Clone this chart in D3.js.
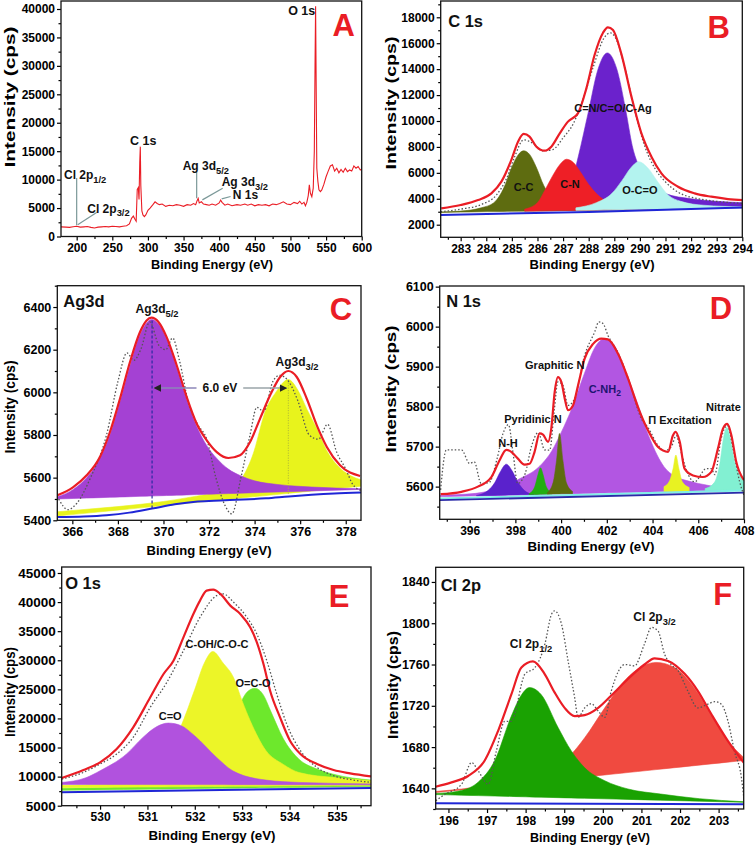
<!DOCTYPE html>
<html><head><meta charset="utf-8">
<script src="https://cdn.jsdelivr.net/npm/d3@7"></script>
<style>body{margin:0;background:#fff}</style>
</head><body><svg id="c" width="756" height="846"></svg>
<script>
// ================= DATA =================
// Panel A: survey spectrum [eV, cps]
const surveyA = [[178,1700],[185,1650],[190,1600],[195,1700],[200,1800],[205,1650],[210,1700],[215,1750],[220,1600],[225,1500],[230,1650],[235,1700],[240,1750],[245,1700],[250,1800],[255,1750],[260,1700],[265,1800],[270,1900],[274,2200],[277,3200],[279.5,3600],[282,3000],[283.5,2700],[285,8300],[286.5,8600],[287.5,6500],[288.5,13000],[289.3,15800],[290,9000],[291.5,4500],[293,3800],[295,3500],[297,3800],[300,4600],[303,5000],[307,5600],[310,6100],[313,5800],[316,5600],[320,5700],[325,5300],[330,5500],[335,5400],[340,5600],[345,5500],[350,5300],[355,5600],[360,5500],[364,5800],[367,5600],[369,6300],[370.5,6700],[372,5900],[375,6100],[378,5700],[382,5600],[386,5500],[390,5700],[395,5500],[400,5900],[402,6400],[404,6000],[408,5500],[412,5700],[418,5400],[425,5600],[430,5500],[436,5700],[440,5500],[445,5700],[450,5400],[455,5600],[460,5500],[465,5600],[470,5400],[475,5700],[480,5600],[485,5800],[490,6100],[495,5700],[500,5600],[505,6000],[510,5800],[513,6200],[516,5700],[519,6000],[521,5400],[523,6000],[525,7200],[526.5,9100],[528,7600],[530,7000],[532,8500],[533.5,15000],[534.5,30000],[535.3,40500],[536.2,25000],[537,12000],[538.5,9700],[540,8200],[542,7900],[544,8200],[547,9200],[550,10500],[553,11500],[556,12400],[559,12600],[562,11500],[565,12000],[568,11200],[571,11800],[574,11300],[577,12000],[580,11400],[583,11700],[586,11500],[589,12400],[592,12000],[595,12300],[598,11700],[600,11900]];
const markLinesA = [[[200,2000],[200,10300]],[[201.4,2050],[228,4200]],[[368.4,6740],[368.4,11400]],[[376.4,6440],[404.9,8490]],[[403.5,6620],[416,7030]]];

// Panel B: C 1s
const envB = [[282.24,3260],[283,3520],[283.68,3900],[284.2,4420],[284.59,5320],[284.98,7000],[285.24,8400],[285.46,9000],[285.69,8790],[285.96,8020],[286.28,7710],[286.54,8020],[286.87,9050],[287.19,9950],[287.58,10590],[287.91,12520],[288.23,15090],[288.56,16810],[288.75,17230],[288.95,17020],[289.27,15220],[289.67,11880],[290.06,9050],[290.45,7250],[290.84,5960],[291.49,4930],[292.14,4420],[292.79,4160],[293.44,3980],[294.03,3900]];
const expB = [[282.22,3000],[283,3200],[283.8,3550],[284.4,4300],[284.8,5600],[285.1,7200],[285.46,8550],[285.8,8300],[286.2,7700],[286.6,7800],[287.0,8700],[287.4,9800],[287.8,11800],[288.2,14300],[288.6,16400],[288.85,16800],[289.1,16200],[289.4,14200],[289.8,10800],[290.2,8000],[290.6,6300],[291.0,5300],[291.5,4500],[292.3,4000],[293,3800],[294,3650]];
const ccB = [[282.22,2980],[283,3050],[283.8,3300],[284.3,3700],[284.7,4900],[285.0,6450],[285.25,7400],[285.46,7700],[285.7,7400],[285.95,6450],[286.25,5000],[286.6,3950],[287.0,3450],[287.6,3250],[288.5,3150],[289.5,3150]];
const cnB = [[285.5,3200],[286.0,3700],[286.3,4700],[286.6,5800],[286.9,6700],[287.13,7050],[287.4,6800],[287.7,6000],[288.0,5100],[288.3,4400],[288.6,3900],[289.0,3550],[289.5,3350],[290.5,3300]];
const cnoB = [[285.5,3200],[286.5,3500],[287.0,4000],[287.3,5000],[287.6,7300],[288.0,10800],[288.35,13900],[288.73,15250],[289.1,14000],[289.45,10800],[289.7,8100],[290.1,6000],[290.5,4900],[291,4400],[292,4000],[293,3800],[294,3700]];
const ocoB = [[287.5,3300],[288.3,3700],[288.9,4400],[289.3,5400],[289.65,6400],[289.95,6860],[290.3,6400],[290.7,5300],[291.1,4300],[291.6,3800],[292.5,3500],[294,3380]];
const baseFillB = [[282.22,2950],[294,3300]];
const blueB = [[282.22,2750],[288,2980],[294,3330]];

// Panel C: Ag 3d
const envC = [[365.34,5517],[366.04,5556],[366.63,5611],[367.21,5697],[367.65,5814],[368.09,5970],[368.53,6142],[368.97,6283],[369.26,6337],[369.48,6350],[369.78,6330],[370.14,6259],[370.58,6127],[371.02,5978],[371.46,5853],[371.9,5775],[372.34,5720],[372.85,5692],[373.36,5705],[373.8,5767],[374.24,5877],[374.68,5986],[375.12,6072],[375.48,6100],[375.85,6072],[376.29,5970],[376.73,5845],[377.17,5744],[377.75,5658],[378.63,5608]];
const expC = [[365.4,5500],[365.8,5450],[366.2,5480],[366.8,5600],[367.5,5800],[368.0,6050],[368.4,6185],[368.7,6150],[369.0,6200],[369.4,6330],[369.8,6220],[370.1,6200],[370.4,6255],[370.7,6150],[371.1,5950],[371.5,5850],[371.9,5780],[372.3,5600],[372.7,5470],[373.0,5430],[373.4,5600],[373.8,5800],[374.1,5930],[374.4,5910],[374.8,6050],[375.1,6080],[375.5,6050],[375.9,5960],[376.4,5800],[376.8,5780],[377.2,5850],[377.6,5720],[378.0,5640],[378.3,5570],[378.67,5540]];
const ag52C = [[365.34,5510],[366.04,5545],[366.63,5600],[367.21,5690],[367.65,5800],[368.09,5955],[368.53,6125],[368.97,6270],[369.26,6325],[369.48,6342],[369.78,6320],[370.14,6250],[370.58,6115],[371.02,5965],[371.46,5840],[371.9,5750],[372.34,5690],[372.85,5640],[373.36,5610],[374.0,5585],[375,5568],[376.5,5556],[378.67,5548]];
const ag32C = [[365.34,5440],[367,5455],[369,5475],[371,5505],[372.5,5540],[373.3,5580],[373.9,5700],[374.5,5920],[374.9,5995],[375.48,6060],[375.9,6010],[376.3,5920],[376.73,5830],[377.2,5720],[377.7,5650],[378.2,5610],[378.67,5590]];
const baseAg52C = [[365.34,5500],[378.67,5545]];
const baseAg32C = [[365.34,5420],[378.67,5560]];
const blueC = [[365.34,5415],[366.5,5418],[367.5,5424],[368.5,5436],[369.5,5455],[370.5,5475],[371.5,5488],[372.5,5493],[373.5,5497],[374.5,5503],[375.5,5512],[376.5,5520],[377.5,5526],[378.67,5530]];

// Panel D: N 1s
const envD = [[394.73,5581],[395.64,5587],[396.36,5600],[396.95,5624],[397.31,5666],[397.6,5692],[397.82,5687],[398.11,5670],[398.4,5655],[398.62,5657],[398.84,5687],[399.06,5733],[399.21,5730],[399.43,5712],[399.57,5745],[399.72,5837],[399.86,5874],[400.01,5862],[400.16,5820],[400.3,5791],[400.52,5803],[400.74,5853],[401.03,5920],[401.4,5957],[401.76,5970],[402.05,5968],[402.49,5932],[402.93,5870],[403.36,5799],[403.8,5741],[404.24,5699],[404.68,5687],[404.89,5728],[405.01,5737],[405.19,5712],[405.4,5645],[405.77,5628],[406.2,5624],[406.57,5637],[406.86,5695],[407.08,5745],[407.27,5757],[407.45,5728],[407.66,5662],[408,5616]];
const expD = [[394.73,5592],[394.98,5692],[395.3,5692],[395.64,5692],[396.0,5658],[396.2,5662],[396.5,5608],[396.85,5610],[397.2,5670],[397.46,5733],[397.7,5755],[397.9,5683],[398.1,5608],[398.43,5633],[398.7,5700],[399.0,5735],[399.28,5692],[399.5,5691],[399.7,5790],[399.86,5862],[400.08,5853],[400.3,5803],[400.59,5820],[401.03,5928],[401.47,5987],[401.65,6012],[401.83,6008],[402.05,5978],[402.49,5935],[403.0,5860],[403.51,5770],[403.8,5748],[404.24,5703],[404.53,5690],[404.82,5700],[405.04,5728],[405.19,5700],[405.48,5641],[405.84,5612],[406.35,5645],[406.57,5645],[406.72,5630],[407.0,5720],[407.27,5753],[407.52,5695],[407.81,5612],[408,5578]];
const cnh2D = [[394.7,5578],[395.5,5580],[396.5,5585],[397.5,5600],[398.2,5620],[399.0,5648],[399.6,5690],[400.0,5735],[400.5,5800],[401.0,5880],[401.5,5950],[401.9,5970],[402.3,5955],[402.8,5890],[403.3,5815],[403.9,5717],[404.5,5650],[405.0,5625],[405.5,5615],[406.0,5608],[406.7,5600],[407.0,5596]];
const nhD = [[396.3,5578],[396.8,5590],[397.1,5610],[397.35,5638],[397.6,5656],[397.85,5640],[398.1,5612],[398.4,5590],[398.8,5580]];
const pyrD = [[398.6,5582],[398.85,5600],[399.0,5632],[399.1,5647],[399.2,5632],[399.35,5600],[399.6,5584]];
const graD = [[399.4,5585],[399.65,5610],[399.8,5665],[399.93,5733],[400.08,5665],[400.23,5610],[400.5,5588]];
const piD = [[404.5,5600],[404.75,5615],[404.9,5645],[405.02,5679],[405.15,5645],[405.3,5612],[405.6,5598]];
const nitD = [[406.3,5595],[406.7,5610],[406.95,5660],[407.1,5720],[407.25,5748],[407.4,5720],[407.6,5660],[407.8,5630],[408.0,5615]];
const baseFillD = [[394.69,5575],[408,5592]];
const cyanD = [[394.69,5570],[408,5590]];
const blueD = [[394.69,5566],[408,5585]];

// Panel E: O 1s
const envE = [[529.19,9757],[529.65,11130],[530,12450],[530.35,14740],[530.7,18470],[531.06,23630],[531.34,27640],[531.55,29930],[531.76,33940],[531.97,37950],[532.11,40250],[532.25,41970],[532.39,42140],[532.54,41400],[532.75,39390],[532.96,37950],[533.17,35660],[533.31,33080],[533.45,29360],[533.59,24770],[533.8,20190],[534.01,16180],[534.23,13880],[534.58,12160],[534.93,11130],[535.28,10560],[535.72,10040]];
const expE = [[529.19,9580],[529.65,10730],[530,12160],[530.35,13880],[530.7,16750],[531.06,21910],[531.41,26200],[531.76,31650],[532.11,37380],[532.46,41100],[532.6,41400],[532.82,39960],[533.1,37380],[533.31,34510],[533.52,29930],[533.73,24200],[533.94,19040],[534.23,14460],[534.58,11590],[534.93,10160],[535.35,9410],[535.72,9010]];
const coE = [[529.19,9000],[529.7,9800],[530.0,11000],[530.56,13900],[530.9,16700],[531.2,18600],[531.44,19200],[531.7,18800],[532.0,17000],[532.46,13300],[532.8,11000],[533.5,9400],[534.2,9000],[535.72,8750]];
const cohE = [[529.19,8500],[530.0,8700],[530.8,9600],[531.3,12500],[531.7,18500],[532.0,25000],[532.2,29500],[532.38,31500],[532.6,29500],[532.82,27000],[533.0,23000],[533.17,19600],[533.5,14500],[533.87,12100],[534.2,10700],[535.0,9800],[535.72,9300]];
const ocoE = [[529.19,8000],[530.5,8300],[531.5,9000],[532.2,11000],[532.6,15500],[532.9,21500],[533.1,24500],[533.27,25200],[533.45,24000],[533.6,21300],[533.87,16500],[534.2,13000],[534.58,11300],[534.93,10400],[535.72,9400]];
const baseCoE = [[529.19,8650],[535.72,8600]];
const baseCohE = [[529.19,8100],[535.72,8500]];
const baseOcoE = [[529.19,7650],[535.72,8300]];
const blueE = [[529.19,7300],[535.72,8050]];

// Panel F: Cl 2p
const envF = [[195.67,1641.6],[196.08,1645.8],[196.51,1652],[196.94,1667],[197.29,1696],[197.63,1731],[197.89,1757],[198.19,1763],[198.49,1751],[198.75,1733],[199.01,1718],[199.27,1710],[199.53,1711],[199.88,1718],[200.22,1730],[200.65,1746],[201.08,1760],[201.34,1766],[201.69,1763.5],[202.12,1751],[202.46,1734.5],[202.81,1712],[203.24,1686],[203.65,1665]];
const expF = [[195.67,1628],[195.9,1634],[196.34,1644],[196.6,1665],[196.77,1657],[197.03,1644],[197.24,1676],[197.46,1705],[197.63,1705],[197.98,1750.6],[198.24,1757],[198.5,1780],[198.67,1808.7],[198.75,1812],[198.93,1799],[199.1,1763.5],[199.27,1728],[199.36,1708.7],[199.53,1718],[199.7,1722],[199.88,1715],[200.05,1708.7],[200.22,1734.5],[200.57,1760],[200.82,1758.7],[201.08,1780],[201.26,1796],[201.43,1792.6],[201.6,1770],[201.77,1760],[201.95,1754],[202.2,1734.5],[202.46,1718],[202.72,1721.6],[202.9,1724],[203.07,1721.6],[203.24,1705.5],[203.41,1676],[203.59,1650.6],[203.65,1632]];
const p12F = [[195.67,1635],[196.34,1638],[196.77,1646],[197.2,1667],[197.63,1710],[197.9,1731],[198.1,1737.7],[198.4,1731],[198.84,1699],[199.18,1676.5],[199.53,1660],[200.05,1647.4],[200.65,1639.4],[201.5,1634.5],[202.5,1630],[203.65,1627]];
const p32F = [[195.67,1637],[197,1643],[198,1652],[198.6,1662],[199.14,1671.6],[199.53,1689],[200.05,1718],[200.48,1741],[200.9,1755.5],[201.38,1762],[201.86,1757],[202.3,1741],[202.8,1712],[203.24,1686],[203.65,1670]];
const baseP12F = [[195.67,1634],[203.65,1626.5]];
const baseP32F = [[195.67,1636],[203.65,1667]];
const blueF = [[195.67,1625.5],[203.65,1624.5]];

// ================= DRAWING =================
const FONT = "'Liberation Sans', Arial, Helvetica, sans-serif";
const RED = '#ea1d25', BLUE = '#1f26d6';
const svg = d3.select('#c');
svg.append('rect').attr('width', 756).attr('height', 846).attr('fill', '#fff');

function panel(cfg) {
  const x = d3.scaleLinear().domain(cfg.xd).range([cfg.left, cfg.right]);
  const y = d3.scaleLinear().domain(cfg.yd).range([cfg.bottom, cfg.top]);
  const id = 'clip' + cfg.name;
  svg.append('clipPath').attr('id', id).append('rect')
    .attr('x', cfg.left).attr('y', cfg.top).attr('width', cfg.right - cfg.left).attr('height', cfg.bottom - cfg.top);
  const g = svg.append('g').attr('clip-path', `url(#${id})`);
  return {x, y, g, cfg};
}

function fillComp(P, top, base, color) {
  const [[bx0, by0], [bx1, by1]] = base;
  const b = v => by0 + (by1 - by0) * (v - bx0) / (bx1 - bx0);
  const area = d3.area().x(d => P.x(d[0])).y1(d => P.y(d[1])).y0(d => P.y(b(d[0]))).curve(d3.curveMonotoneX);
  P.g.append('path').datum(top).attr('d', area).attr('fill', color).attr('stroke', color).attr('stroke-width', 0.6);
}
function line(P, data, color, width, dash, curve) {
  const l = d3.line().x(d => P.x(d[0])).y(d => P.y(d[1])).curve(curve || d3.curveMonotoneX);
  const p = P.g.append('path').datum(data).attr('d', l).attr('fill', 'none')
    .attr('stroke', color).attr('stroke-width', width);
  if (dash) p.attr('stroke-dasharray', dash);
  return p;
}
function label(P, xv, yv, main, sub, o) {
  o = o || {};
  const size = o.size || 11;
  const t = svg.append('text').attr('x', P.x(xv)).attr('y', P.y(yv) + size * 0.36)
    .attr('font-family', FONT).attr('font-weight', 'bold').attr('font-size', size)
    .attr('fill', o.color || '#111').attr('text-anchor', o.anchor || 'middle');
  t.append('tspan').text(main);
  if (sub) t.append('tspan').attr('font-size', size * 0.78).attr('dy', size * 0.3).text(sub);
  return t;
}
function axes(P) {
  const c = P.cfg, fx = c.fx || 12, fy = c.fy || 12;
  const inD = (arr, d) => arr.filter(v => v >= Math.min(...d) && v <= Math.max(...d));
  const styleAx = (s, fs) => {
    s.attr('font-family', FONT).attr('font-size', fs);
    s.selectAll('text').attr('font-weight', 'bold').attr('fill', '#000');
    s.selectAll('line').attr('stroke', '#000').attr('stroke-width', 1.2);
    s.select('.domain').remove();
  };
  styleAx(svg.append('g').attr('transform', `translate(0,${c.bottom})`)
    .call(d3.axisBottom(P.x).tickValues(inD(c.xt, c.xd)).tickSize(4).tickPadding(3).tickFormat(d3.format('d'))), fx);
  styleAx(svg.append('g').attr('transform', `translate(0,${c.bottom})`)
    .call(d3.axisBottom(P.x).tickValues(inD(c.xm, c.xd)).tickSize(2.5).tickFormat('')), fx);
  styleAx(svg.append('g').attr('transform', `translate(${c.left},0)`)
    .call(d3.axisLeft(P.y).tickValues(inD(c.yt, c.yd)).tickSize(4).tickPadding(2).tickFormat(d3.format('d'))), fy);
  styleAx(svg.append('g').attr('transform', `translate(${c.left},0)`)
    .call(d3.axisLeft(P.y).tickValues(inD(c.ym, c.yd)).tickSize(2.5).tickFormat('')), fy);
  svg.append('rect').attr('x', c.left).attr('y', c.top).attr('width', c.right - c.left).attr('height', c.bottom - c.top)
    .attr('fill', 'none').attr('stroke', '#111').attr('stroke-width', 1.3);
  svg.append('text').attr('x', c.xtx).attr('y', c.xty).attr('text-anchor', 'middle').attr('dominant-baseline', 'central')
    .attr('font-family', FONT).attr('font-weight', 'bold').attr('font-size', 13)
    .attr('textLength', c.xtl).attr('lengthAdjust', 'spacingAndGlyphs').text('Binding Energy (eV)');
  svg.append('text').attr('transform', `translate(${c.ytx},${c.yty}) rotate(-90)`).attr('text-anchor', 'middle')
    .attr('dominant-baseline', 'central').attr('font-family', FONT).attr('font-weight', 'bold').attr('font-size', 14)
    .attr('textLength', c.ytl).attr('lengthAdjust', 'spacingAndGlyphs').text('Intensity (cps)');
  if (c.title) svg.append('text').attr('x', c.left + c.titleDx).attr('y', c.top + c.titleDy)
    .attr('font-family', FONT).attr('font-weight', 'bold').attr('font-size', 16.5).attr('fill', '#111').text(c.title);
  svg.append('text').attr('x', c.right - c.letterDx).attr('y', c.top + c.letterDy).attr('text-anchor', 'middle')
    .attr('font-family', FONT).attr('font-weight', 'bold').attr('font-size', 31).attr('fill', RED).text(c.letter);
}
const rng = (a, b, s) => d3.range(a, b + s / 2, s);

// ---------- A ----------
{
  const P = panel({name: 'A', left: 61, right: 361.7, top: 1, bottom: 236.5, xd: [178, 600], yd: [0, 41405],
    xt: rng(200, 600, 50), xm: rng(175, 575, 50), yt: rng(0, 40000, 5000), ym: rng(2500, 40000, 5000),
    xtx: 212, xty: 264, xtl: 122, ytx: 10, yty: 97, ytl: 141, letter: 'A', letterDx: 18, letterDy: 35, fy: 12});
  markLinesA.forEach(s => line(P, s, '#7b9898', 1.2, null, d3.curveLinear));
  line(P, surveyA, RED, 1.1, null, d3.curveLinear);
  axes(P);
  label(P, 515.8, 39820, 'O 1s', null, {size: 12.5});
  label(P, 293.5, 16965, 'C 1s', null, {size: 12.5});
  label(P, 348.8, 12394, 'Ag 3d', '5/2', {size: 12, anchor: 'start'});
  label(P, 403.5, 9634, 'Ag 3d', '3/2', {size: 12, anchor: 'start'});
  label(P, 419, 7296, 'N 1s', null, {size: 12, anchor: 'start'});
  label(P, 182.2, 10812, 'Cl 2p', '1/2', {size: 12, anchor: 'start'});
  label(P, 214.9, 4958, 'Cl 2p', '3/2', {size: 12, anchor: 'start'});
}
// ---------- B ----------
{
  const P = panel({name: 'B', left: 440.7, right: 742.3, top: 1, bottom: 237.3, xd: [282.22, 294], yd: [1028, 19257],
    xt: rng(283, 294, 1), xm: rng(282.5, 293.5, 1), yt: rng(2000, 18000, 2000), ym: rng(3000, 19000, 2000),
    xtx: 592, xty: 264, xtl: 125, ytx: 391, yty: 103, ytl: 133, title: 'C 1s', titleDx: 7.5, titleDy: 26,
    letter: 'B', letterDx: 23.5, letterDy: 37, fx: 12, fy: 12});
  fillComp(P, cnoB, baseFillB, '#6b22cc');
  fillComp(P, ccB, baseFillB, '#5e6c10');
  fillComp(P, cnB, baseFillB, '#ee1f26');
  fillComp(P, ocoB, baseFillB, '#b3f3ef');
  line(P, blueB, BLUE, 2, null, d3.curveLinear);
  line(P, expB, '#555', 1.3, '1.5,2');
  line(P, envB, RED, 2.2);
  axes(P);
  label(P, 288.95, 11003, 'C=N/C=O/C-Ag', null, {size: 11});
  label(P, 285.46, 4908, 'C-C', null, {size: 11});
  label(P, 287.27, 5140, 'C-N', null, {size: 11});
  label(P, 290.0, 4677, 'O-C=O', null, {size: 11});
}
// ---------- C ----------
{
  const P = panel({name: 'C', left: 57.3, right: 361, top: 285.7, bottom: 520.3, xd: [365.34, 378.67], yd: [5400, 6500],
    xt: rng(366, 378, 2), xm: rng(367, 377, 2), yt: rng(5400, 6400, 200), ym: rng(5500, 6500, 200),
    xtx: 209, xty: 550, xtl: 125, ytx: 10, yty: 407, ytl: 93, title: 'Ag3d', titleDx: 6, titleDy: 21.5,
    letter: 'C', letterDx: 20, letterDy: 34.5, fx: 12.5, fy: 12.5});
  fillComp(P, ag32C, baseAg32C, '#e8f31c');
  fillComp(P, ag52C, baseAg52C, '#a441d3');
  line(P, blueC, BLUE, 2);
  line(P, [[369.5, 5455], [369.5, 6345]], '#2a2aa0', 1.2, '3,2', d3.curveLinear);
  line(P, [[375.48, 5525], [375.48, 6060]], '#a9b43a', 1, '1,1.5', d3.curveLinear);
  line(P, expC, '#555', 1.3, '1.5,2');
  line(P, envC, RED, 2.2);
  const defs = svg.append('defs');
  defs.append('marker').attr('id', 'arr').attr('viewBox', '0 0 10 10').attr('refX', 9).attr('refY', 5)
    .attr('markerWidth', 5).attr('markerHeight', 5).attr('orient', 'auto')
    .append('path').attr('d', 'M0,0L10,5L0,10Z').attr('fill', '#222');
  line(P, [[371.45, 6020], [369.6, 6020]], '#8d86b8', 1.5, null, d3.curveLinear).attr('marker-end', 'url(#arr)');
  line(P, [[373.5, 6020], [375.4, 6020]], '#9aa4a8', 1.5, null, d3.curveLinear).attr('marker-end', 'url(#arr)');
  axes(P);
  label(P, 372.48, 6020, '6.0 eV', null, {size: 12});
  label(P, 369.72, 6391, 'Ag3d', '5/2', {size: 12});
  label(P, 375.86, 6142, 'Ag3d', '3/2', {size: 12});
}
// ---------- D ----------
{
  const P = panel({name: 'D', left: 439.7, right: 744, top: 286, bottom: 519.3, xd: [394.69, 408], yd: [5518.3, 6101.6],
    xt: rng(396, 408, 2), xm: rng(395, 407, 2), yt: rng(5600, 6100, 100), ym: rng(5550, 6050, 100),
    xtx: 591, xty: 546, xtl: 127, ytx: 391, yty: 389, ytl: 127, title: 'N 1s', titleDx: 6.5, titleDy: 21,
    letter: 'D', letterDx: 23, letterDy: 33, fx: 12, fy: 12.5});
  fillComp(P, cnh2D, baseFillD, '#b256e2');
  fillComp(P, nhD, baseFillD, '#5a22cc');
  fillComp(P, pyrD, baseFillD, '#22ad12');
  fillComp(P, graD, baseFillD, '#5e6c10');
  fillComp(P, piD, baseFillD, '#e8f222');
  fillComp(P, nitD, baseFillD, '#82f0d2');
  line(P, cyanD, '#7ff0e6', 2, null, d3.curveLinear);
  line(P, blueD, '#2a2aa8', 1.8, null, d3.curveLinear);
  line(P, expD, '#555', 1.3, '1.5,2');
  line(P, envD, RED, 2.2);
  axes(P);
  label(P, 399.72, 5904, 'Graphitic N', null, {size: 11});
  label(P, 401.91, 5845, 'C-NH', '2', {size: 11, color: '#1e1470'});
  label(P, 398.77, 5769, 'Pyridinic N', null, {size: 11});
  label(P, 397.68, 5708, 'N-H', null, {size: 11});
  label(P, 405.2, 5766, 'Π Excitation', null, {size: 11});
  label(P, 407.1, 5800, 'Nitrate', null, {size: 11});
}
// ---------- E ----------
{
  const P = panel({name: 'E', left: 61.7, right: 371, top: 567, bottom: 805.7, xd: [529.19, 535.72], yd: [5000, 46030],
    xt: rng(530, 535, 1), xm: rng(529.5, 535.5, 1), yt: rng(5000, 45000, 5000), ym: rng(7500, 42500, 5000),
    xtx: 212, xty: 835.5, xtl: 127, ytx: 9.5, yty: 692, ytl: 90, title: 'O 1s', titleDx: 3.5, titleDy: 22,
    letter: 'E', letterDx: 32, letterDy: 40, fx: 12, fy: 13.5});
  fillComp(P, ocoE, baseOcoE, '#6de82c');
  fillComp(P, cohE, baseCohE, '#ecf528');
  fillComp(P, coE, baseCoE, '#b152de');
  line(P, blueE, BLUE, 2, null, d3.curveLinear);
  line(P, expE, '#555', 1.3, '1.5,2');
  line(P, envE, RED, 2.2);
  axes(P);
  label(P, 532.47, 32793, 'C-OH/C-O-C', null, {size: 11});
  label(P, 533.23, 26089, 'O=C-O', null, {size: 11});
  label(P, 531.48, 20467, 'C=O', null, {size: 11});
}
// ---------- F ----------
{
  const P = panel({name: 'F', left: 435.7, right: 743.7, top: 567.3, bottom: 809, xd: [195.67, 203.65], yd: [1620, 1854.2],
    xt: rng(196, 203, 1), xm: rng(195.5, 203.5, 1), yt: rng(1640, 1840, 40), ym: rng(1620, 1840, 40),
    xtx: 590, xty: 837.5, xtl: 120, ytx: 393, yty: 685, ytl: 108, title: 'Cl 2p', titleDx: 5, titleDy: 23.5,
    letter: 'F', letterDx: 21, letterDy: 38, fx: 12, fy: 12.5});
  fillComp(P, p32F, baseP32F, '#f04a40');
  fillComp(P, p12F, baseP12F, '#1aa202');
  line(P, blueF, BLUE, 2, null, d3.curveLinear);
  line(P, expF, '#555', 1.3, '1.5,2');
  line(P, envF, RED, 2.2);
  axes(P);
  label(P, 198.14, 1780, 'Cl 2p', '1/2', {size: 12});
  label(P, 201.34, 1806, 'Cl 2p', '3/2', {size: 12});
}
</script></body></html>
